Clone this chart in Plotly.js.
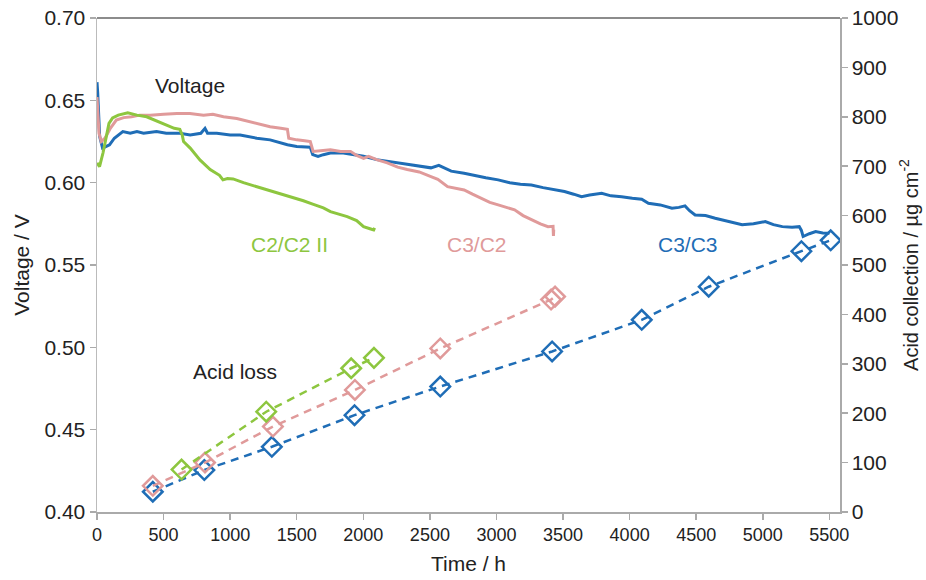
<!DOCTYPE html>
<html>
<head>
<meta charset="utf-8">
<script src="https://cdn.plot.ly/plotly-3.0.1.min.js"></script>
<style>html,body{margin:0;padding:0;background:#fff;}#chart{width:926px;height:580px;}</style>
</head>
<body>
<div id="chart"></div>
<script>
// Voltage curves (time in h, voltage in V)
var c3c3Time = [0,5,20,42,70,94,130,194,250,300,350,447,520,622,700,780,811,830,900,1000,1075,1130,1200,1300,1430,1500,1602,1620,1660,1700,1753,1850,1920,2002,2100,2180,2258,2350,2420,2508,2567,2660,2757,2850,2920,3013,3100,3180,3262,3350,3430,3511,3580,3639,3700,3790,3860,3940,4020,4091,4141,4230,4318,4370,4416,4450,4492,4570,4643,4720,4780,4845,4930,5019,5080,5147,5220,5274,5290,5303,5350,5397,5450,5501];
var c3c3Volt = [0.661,0.655,0.628,0.621,0.622,0.623,0.627,0.631,0.630,0.631,0.630,0.631,0.630,0.630,0.629,0.630,0.633,0.630,0.630,0.629,0.629,0.628,0.627,0.626,0.623,0.622,0.6215,0.617,0.616,0.617,0.618,0.618,0.617,0.616,0.614,0.613,0.612,0.611,0.610,0.609,0.6105,0.607,0.6057,0.604,0.603,0.6017,0.600,0.599,0.5986,0.597,0.596,0.5946,0.593,0.5915,0.5925,0.5936,0.592,0.5915,0.5905,0.5899,0.5875,0.5865,0.5845,0.585,0.5859,0.583,0.5804,0.580,0.5784,0.577,0.576,0.5744,0.575,0.5764,0.5745,0.5733,0.573,0.5733,0.571,0.5673,0.569,0.5703,0.5695,0.5693];

var c3c2Time = [0,5,15,32,60,100,145,200,260,320,400,500,600,698,800,870,950,1050,1120,1200,1300,1380,1430,1440,1500,1560,1602,1623,1680,1753,1830,1904,1950,2002,2040,2100,2180,2258,2330,2420,2508,2560,2633,2700,2757,2820,2885,2950,3013,3080,3136,3200,3262,3330,3387,3425,3428,3430];
var c3c2Volt = [0.652,0.645,0.630,0.625,0.627,0.633,0.638,0.6395,0.640,0.641,0.641,0.6415,0.642,0.642,0.641,0.6415,0.640,0.639,0.6375,0.636,0.634,0.633,0.6324,0.627,0.626,0.6255,0.625,0.619,0.6195,0.620,0.619,0.619,0.6165,0.6148,0.616,0.614,0.612,0.6094,0.608,0.6065,0.6037,0.602,0.5976,0.5966,0.5956,0.593,0.5905,0.588,0.5865,0.585,0.5835,0.580,0.5774,0.575,0.5733,0.5735,0.5677,0.5715];

var c2c2Time = [0,19,45,70,90,117,160,231,300,373,450,524,580,622,640,650,700,773,850,920,946,980,1022,1100,1201,1300,1380,1452,1550,1620,1700,1753,1820,1879,1950,2002,2050,2078,2085];
var c2c2Volt = [0.612,0.6097,0.618,0.628,0.636,0.6393,0.641,0.6425,0.641,0.640,0.6375,0.635,0.633,0.6324,0.629,0.625,0.621,0.6138,0.608,0.6045,0.6017,0.6025,0.6023,0.600,0.5976,0.595,0.593,0.5915,0.589,0.587,0.5847,0.5824,0.581,0.5794,0.577,0.5733,0.572,0.5713,0.5725];

// Acid collection (time in h, µg cm^-2)
var acidC3C3Time = [419,806,1313,1934,2578,3418,4091,4594,5290,5510];
var acidC3C3 = [41,85,132,196,254,325,389,456,528,550];
var acidC3C2Time = [419,811,1321,1937,2578,3410,3440];
var acidC3C2 = [53,100,173,247,331,430,436];
var acidC2C2Time = [635,1271,1909,2080];
var acidC2C2 = [86,203,291,312];

var xTicks = [0,500,1000,1500,2000,2500,3000,3500,4000,4500,5000,5500];

var BLUE = '#1f6db6', PINK = '#e09a9a', GREEN = '#8dc63f';
var FONT = 'Liberation Sans, Arial, sans-serif';

function vline(x, y, c) {
  return {x: x, y: y, type: 'scatter', mode: 'lines', line: {color: c, width: 3}, xaxis: 'x', yaxis: 'y', hoverinfo: 'skip'};
}
function acid(x, y, c) {
  return {x: x, y: y, type: 'scatter', mode: 'lines+markers', xaxis: 'x', yaxis: 'y2',
    line: {color: c, width: 2.5, dash: '8px,6px'},
    marker: {symbol: 'diamond-open', size: 15, color: c, line: {color: c, width: 2.5}}};
}

var data = [
  vline(c3c3Time, c3c3Volt, BLUE),
  vline(c3c2Time, c3c2Volt, PINK),
  vline(c2c2Time, c2c2Volt, GREEN),
  acid(acidC3C3Time, acidC3C3, BLUE),
  acid(acidC3C2Time, acidC3C2, PINK),
  acid(acidC2C2Time, acidC2C2, GREEN)
];

var layout = {
  width: 926, height: 580,
  margin: {l: 97, r: 86, t: 18, b: 68},
  paper_bgcolor: '#fff', plot_bgcolor: '#fff',
  showlegend: false,
  font: {family: FONT, color: '#222'},
  xaxis: {
    range: [0, 5580], tickvals: xTicks, ticktext: xTicks.map(String),
    showgrid: false, zeroline: false, showline: true, linecolor: '#aaa', linewidth: 1.5,
    ticks: 'outside', ticklen: 6, tickcolor: '#aaa', tickwidth: 1.5,
    tickfont: {size: 18, family: FONT, color: '#222'},
    title: {text: 'Time / h', font: {size: 21, family: FONT, color: '#222'}, standoff: 12}
  },
  yaxis: {
    range: [0.40, 0.70], dtick: 0.05, tickformat: '.2f',
    showgrid: false, zeroline: false, showline: true, linecolor: '#bbb', linewidth: 1.5,
    ticks: 'outside', ticklen: 6, tickcolor: '#aaa', tickwidth: 1.5,
    tickfont: {size: 21, family: FONT, color: '#222'},
    title: {text: 'Voltage / V', font: {size: 21, family: FONT, color: '#222'}, standoff: 9}
  },
  yaxis2: {
    range: [0, 1000], dtick: 100, overlaying: 'y', side: 'right',
    showgrid: false, zeroline: false, showline: true, linecolor: '#aaa', linewidth: 1.5,
    ticks: 'outside', ticklen: 6, tickcolor: '#aaa', tickwidth: 1.5,
    tickfont: {size: 21, family: FONT, color: '#222'},
    title: {text: 'Acid collection / µg cm<sup>-2</sup>', font: {size: 20, family: FONT, color: '#222'}, standoff: 6}
  },
  shapes: [
    {type: 'line', xref: 'paper', yref: 'paper', x0: 0, x1: 1, y0: 1, y1: 1, line: {color: '#666', width: 1.5}}
  ],
  annotations: [
    {text: 'Voltage', x: 695, y: 0.6593, xref: 'x', yref: 'y', showarrow: false, font: {size: 21, color: '#222', family: FONT}},
    {text: 'Acid loss', x: 1034, y: 0.4851, xref: 'x', yref: 'y', showarrow: false, font: {size: 21, color: '#222', family: FONT}},
    {text: 'C2/C2 II', x: 1447, y: 0.5622, xref: 'x', yref: 'y', showarrow: false, font: {size: 21, color: GREEN, family: FONT}},
    {text: 'C3/C2', x: 2853, y: 0.5622, xref: 'x', yref: 'y', showarrow: false, font: {size: 21, color: PINK, family: FONT}},
    {text: 'C3/C3', x: 4440, y: 0.5622, xref: 'x', yref: 'y', showarrow: false, font: {size: 21, color: BLUE, family: FONT}}
  ]
};

Plotly.newPlot('chart', data, layout, {displayModeBar: false, staticPlot: true});
</script>
</body>
</html>
